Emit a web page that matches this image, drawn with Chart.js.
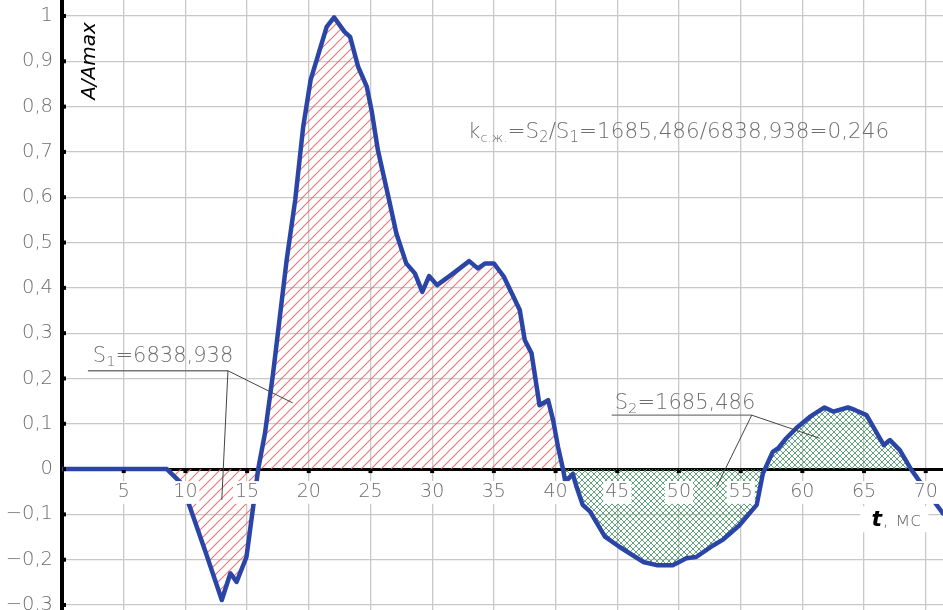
<!DOCTYPE html>
<html>
<head>
<meta charset="utf-8">
<script src="https://cdn.jsdelivr.net/npm/chart.js@4.4.1/dist/chart.umd.min.js"></script>
<style>
  html, body { margin: 0; padding: 0; background: #fff; }
  #chart { display: block; }
</style>
</head>
<body>
<canvas id="chart" width="943" height="610"></canvas>
<script>
// values: t in ms, A/Amax
const timeMs = [0, 8.5, 9.7, 11.6, 12.95, 13.65, 14.15, 14.95, 15.9, 16.45, 17.1, 18.2, 18.9, 19.55, 20.15,
  21.45, 22.05, 22.9, 23.35, 24.0, 24.7, 25.1, 25.6, 26.45, 27.1, 27.9, 28.6, 29.2, 29.75, 30.4,
  31.7, 33.0, 33.7, 34.3, 35.0, 35.8, 36.45, 37.1, 37.5, 38.05, 38.7, 39.4, 39.8, 40.2, 40.6,
  40.8, 41.4, 41.7, 42.2, 42.8, 44.0, 45.2, 47.1, 48.2, 49.5, 50.6, 51.4, 52.8, 53.6, 54.9,
  56.3, 56.8, 57.6, 58.05, 58.7, 59.5, 60.6, 61.8, 62.5, 63.7, 64.3, 65.2, 66.6, 67.1, 67.9,
  68.8, 70.0, 71.4];
const amplitude = [0, 0, -0.032, -0.18, -0.289, -0.23, -0.249, -0.194, 0, 0.079, 0.21, 0.46, 0.594, 0.756, 0.859,
  0.976, 0.997, 0.965, 0.954, 0.888, 0.844, 0.79, 0.704, 0.601, 0.52, 0.454, 0.432, 0.391, 0.426, 0.406,
  0.432, 0.459, 0.443, 0.454, 0.454, 0.425, 0.388, 0.351, 0.285, 0.256, 0.141, 0.152, 0.108, 0.049, 0,
  -0.028, -0.011, -0.039, -0.079, -0.094, -0.149, -0.172, -0.205, -0.212, -0.212, -0.197, -0.194, -0.168, -0.155, -0.124,
  -0.079, -0.01, 0.038, 0.046, 0.068, 0.09, 0.115, 0.136, 0.127, 0.136, 0.13, 0.119, 0.053, 0.064, 0.042,
  0, -0.046, -0.098];

const xTicks = [5, 10, 15, 20, 25, 30, 35, 40, 45, 50, 55, 60, 65, 70];
const yTicks = [-0.3, -0.2, -0.1, 0, 0.1, 0.2, 0.3, 0.4, 0.5, 0.6, 0.7, 0.8, 0.9, 1];

// zero crossings bounding the two areas
const s1Range = [0, 40.6];
const s2Range = [40.6, 68.8];

const s1Text = [['S'], ['1', 0.7], ['=6838,938']];
const s2Text = [['S'], ['2', 0.7], ['=1685,486']];
const kText = [['k'], ['с.ж.', 0.6], ['=S'], ['2', 0.7], ['/S'], ['1', 0.7], ['=1685,486/6838,938=0,246']];

const FONT = '"DejaVu Sans"';
const GREY = '#6e6e6e';

const points = timeMs.map((t, i) => ({ x: t, y: amplitude[i] }));
const inRange = r => points.filter(p => p.x >= r[0] && p.x <= r[1]);

function hatch(size, color, width, cross) {
  const c = document.createElement('canvas');
  c.width = size; c.height = size;
  const g = c.getContext('2d');
  g.strokeStyle = color;
  g.lineWidth = width;
  g.beginPath();
  g.moveTo(-1, size + 1); g.lineTo(size + 1, -1);
  g.moveTo(-1, 1); g.lineTo(1, -1);
  g.moveTo(size - 1, size + 1); g.lineTo(size + 1, size - 1);
  if (cross) {
    g.moveTo(-1, -1); g.lineTo(size + 1, size + 1);
    g.moveTo(size - 1, -1); g.lineTo(size + 1, 1);
    g.moveTo(-1, size - 1); g.lineTo(1, size + 1);
  }
  g.stroke();
  return g.createPattern(c, 'repeat');
}

function drawRuns(ctx, runs, x, y, size) {
  runs.forEach(([text, sub]) => {
    const s = sub ? size * sub : size;
    ctx.font = `200 ${s}px ${FONT}`;
    ctx.fillText(text, x, y + (sub ? size * 0.2 : 0));
    x += ctx.measureText(text).width;
  });
  return x;
}

const annotations = {
  id: 'annotations',
  afterDraw(chart) {
    const { ctx, scales: { x, y } } = chart;
    const px = v => x.getPixelForValue(v);
    const py = v => y.getPixelForValue(v);
    ctx.save();

    // tick dots on the axes
    ctx.fillStyle = '#000';
    xTicks.forEach(v => ctx.fillRect(px(v) - 2, py(0) + 1, 4, 3));
    yTicks.forEach(v => ctx.fillRect(px(0) + 1, py(v) - 2, 3, 4));

    ctx.textBaseline = 'alphabetic';
    ctx.fillStyle = GREY;
    drawRuns(ctx, kText, px(32.9), py(0.731), 21.5);
    drawRuns(ctx, s1Text, px(2.5), py(0.236), 21);
    drawRuns(ctx, s2Text, px(44.8), py(0.132), 21);

    // leaders
    ctx.strokeStyle = '#777';
    ctx.lineWidth = 1.3;
    ctx.beginPath();
    ctx.moveTo(px(2.1), py(0.217)); ctx.lineTo(px(13.45), py(0.217));
    ctx.moveTo(px(44.55), py(0.119)); ctx.lineTo(px(55.9), py(0.119));
    ctx.stroke();
    ctx.strokeStyle = '#444';
    ctx.lineWidth = 1;
    ctx.beginPath();
    ctx.moveTo(px(13.45), py(0.217)); ctx.lineTo(px(18.7), py(0.146));
    ctx.moveTo(px(13.45), py(0.217)); ctx.lineTo(px(12.95), py(-0.068));
    ctx.moveTo(px(55.9), py(0.119)); ctx.lineTo(px(61.4), py(0.068));
    ctx.moveTo(px(55.9), py(0.119)); ctx.lineTo(px(53.05), py(-0.039));
    ctx.stroke();

    // axis titles
    ctx.fillStyle = '#fff';
    ctx.fillRect(px(64.7), py(-0.082), 68, 26);
    ctx.fillStyle = '#000';
    ctx.font = `italic bold 22px ${FONT}`;
    ctx.fillText('t', px(65.6), py(-0.125));
    ctx.fillStyle = GREY;
    ctx.font = `200 20px ${FONT}`;
    ctx.fillText(', мс', px(66.5), py(-0.125));

    ctx.translate(px(2.1) + 7, py(0.815));
    ctx.rotate(-Math.PI / 2);
    ctx.fillStyle = '#000';
    ctx.font = `italic 20px ${FONT}`;
    ctx.fillText('A/Amax', 0, 0);
    ctx.restore();
  }
};

const gridOpts = { color: '#c8c8c8', lineWidth: 1.3, drawTicks: false };

new Chart(document.getElementById('chart'), {
  type: 'line',
  data: {
    datasets: [
      {
        data: points,
        borderColor: '#2b45a6',
        borderWidth: 4.5,
        borderJoinStyle: 'round',
        borderCapStyle: 'round',
        pointRadius: 0,
        tension: 0,
        fill: false
      },
      {
        data: inRange(s1Range),
        borderWidth: 0,
        pointRadius: 0,
        fill: 'origin',
        backgroundColor: hatch(10, 'rgba(228,100,100,0.85)', 1.2, false)
      },
      {
        data: inRange(s2Range),
        borderWidth: 0,
        pointRadius: 0,
        fill: 'origin',
        backgroundColor: hatch(6, 'rgba(60,140,90,0.8)', 1, true)
      }
    ]
  },
  options: {
    responsive: false,
    animation: false,
    events: [],
    layout: { padding: 0 },
    plugins: { legend: { display: false }, tooltip: { enabled: false } },
    scales: {
      x: {
        type: 'linear',
        position: { y: 0 },
        min: 0,
        max: 71.4,
        afterBuildTicks: s => { s.ticks = xTicks.map(value => ({ value })); },
        afterFit: s => { s.paddingLeft = 0; s.paddingRight = 0; },
        ticks: {
          color: GREY, font: { family: FONT, size: 19, weight: 200 }, padding: 12, z: 1,
          maxRotation: 0, autoSkip: false,
          showLabelBackdrop: true, backdropColor: '#fff', backdropPadding: { x: 2, y: 0 },
          callback: v => String(v)
        },
        grid: gridOpts,
        border: { color: '#000', width: 3 }
      },
      y: {
        type: 'linear',
        min: -0.311,
        max: 1.0353,
        afterBuildTicks: s => { s.ticks = yTicks.map(value => ({ value })); },
        afterFit: s => { s.width = 62; s.paddingTop = 0; s.paddingBottom = 0; },
        ticks: {
          color: GREY, font: { family: FONT, size: 19.5, weight: 200 }, padding: 9, autoSkip: false,
          callback: v => {
            if (Math.abs(v) < 1e-9) return '0';
            if (v === 1) return '1';
            return (v < 0 ? '−' : '') + Math.abs(v).toFixed(1).replace('.', ',');
          }
        },
        grid: gridOpts,
        border: { color: '#000', width: 4 }
      }
    }
  },
  plugins: [annotations]
});
</script>
</body>
</html>
